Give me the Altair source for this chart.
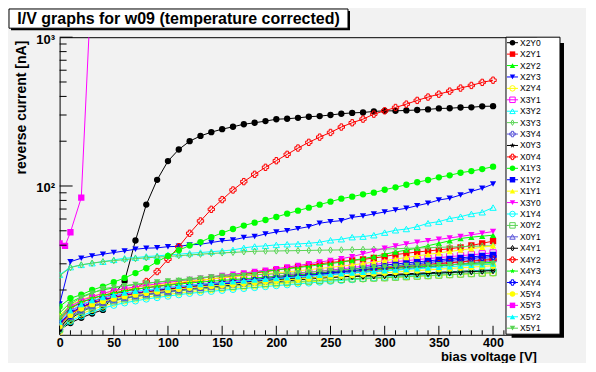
import altair as alt
import pandas as pd

# ---------------- data ----------------
VOLTS = [0, 10, 20, 30, 40, 50, 60, 70, 80, 90, 100, 110, 120, 130, 140, 150, 160, 170, 180, 190, 200,
         210, 220, 230, 240, 250, 260, 270, 280, 290, 300, 310, 320, 330, 340, 350, 360, 370, 380, 390, 400]

X2Y0 = [10.8, 12.0, 13.0, 13.9, 14.7, 18.5, 23.0, 43.0, 75.0, 110.0, 147.0, 176.0, 200.0, 217.0, 230.0, 241.0, 250.0, 260.0, 266.0, 273.0, 281.0,
        283.0, 287.0, 292.0, 295.0, 300.0, 306.0, 310.0, 312.0, 317.0, 320.0, 320.0, 322.0, 324.0, 327.0, 332.0, 333.0, 337.0, 338.0, 343.0, 344.0]
X2Y1 = [12.5, 15.0, 16.5, 17.5, 18.4, 19.1, 19.7, 20.2, 20.7, 21.2, 21.7, 22.2, 22.7, 23.2, 23.7, 24.2, 24.8, 25.4, 26.0, 26.6, 27.2,
        27.9, 28.6, 29.3, 30.0, 30.6, 31.1, 31.6, 32.1, 32.8, 33.6, 34.6, 35.3, 36.0, 36.6, 37.2, 37.9, 38.7, 39.8, 41.2, 42.6]
X2Y2 = [14.0, 16.5, 18.0, 19.2, 20.0, 20.7, 21.3, 21.8, 22.2, 22.6, 23.0, 23.4, 23.8, 24.2, 24.6, 25.0, 25.4, 25.8, 26.3, 26.8, 27.3,
        27.8, 28.3, 28.9, 29.5, 30.1, 30.8, 31.6, 32.5, 33.5, 34.8, 36.0, 37.1, 38.2, 39.7, 41.2, 42.8, 44.4, 45.3, 46.0, 46.7]
X2Y3 = [16.1, 31.0, 32.7, 33.9, 34.8, 35.7, 36.6, 37.6, 38.2, 38.4, 39.1, 39.3, 40.2, 40.6, 41.7, 42.8, 43.4, 45.0, 45.7, 47.6, 49.1,
        50.1, 51.7, 53.3, 56.2, 57.6, 58.5, 61.6, 62.9, 64.9, 66.9, 69.0, 70.8, 73.8, 76.6, 80.5, 82.7, 87.0, 92.0, 96.5, 103.0]
X2Y4 = [10.5, 12.5, 13.8, 14.8, 15.6, 16.3, 16.9, 17.4, 17.9, 18.3, 18.7, 19.1, 19.5, 19.8, 20.1, 20.4, 20.7, 21.0, 21.3, 21.6, 21.9,
        22.2, 22.5, 22.7, 22.9, 23.1, 23.3, 23.5, 23.7, 23.9, 24.1, 24.3, 24.5, 24.7, 24.9, 25.1, 25.3, 25.5, 25.7, 25.9, 26.0]
X3Y1 = [12.0, 14.3, 15.8, 16.8, 17.6, 18.3, 18.9, 19.4, 19.9, 20.3, 20.7, 21.1, 21.5, 21.9, 22.3, 22.7, 23.1, 23.5, 23.9, 24.3, 24.7,
        25.2, 25.7, 26.2, 26.7, 27.2, 27.7, 28.3, 28.9, 29.6, 30.3, 31.0, 31.5, 32.0, 32.5, 33.0, 33.5, 34.0, 34.5, 35.0, 35.5]
X3Y2 = [25.3, 28.5, 29.5, 30.3, 31.0, 31.9, 32.7, 33.0, 33.6, 33.9, 34.4, 34.8, 35.3, 35.7, 36.2, 36.6, 37.2, 38.4, 39.2, 39.6, 40.2,
        40.6, 40.8, 41.2, 41.9, 43.2, 43.9, 45.3, 45.7, 46.7, 48.6, 50.4, 51.4, 53.3, 56.2, 57.6, 60.4, 62.2, 64.9, 66.6, 71.6]
X3Y3 = [24.9, 28.3, 29.5, 30.3, 31.0, 31.5, 32.0, 32.5, 32.9, 33.3, 33.6, 34.0, 34.4, 34.8, 35.2, 35.5, 35.8, 36.1, 36.4, 36.5, 36.6,
        36.7, 36.8, 36.9, 37.0, 37.1, 37.2, 37.3, 37.5, 37.6, 37.7, 37.9, 38.1, 38.3, 38.5, 38.7, 38.9, 39.1, 39.3, 39.5, 39.7]
X3Y4 = [11.8, 14.0, 15.3, 16.3, 17.1, 17.8, 18.4, 18.9, 19.4, 19.8, 20.2, 20.6, 21.0, 21.4, 21.8, 22.2, 22.6, 23.0, 23.4, 23.7, 24.0,
        24.3, 24.6, 24.9, 25.2, 25.5, 25.8, 26.1, 26.4, 26.7, 27.0, 27.4, 27.8, 28.2, 28.6, 29.0, 29.5, 30.0, 30.5, 31.0, 31.5]
X0Y3 = [10.6, 12.8, 14.3, 15.4, 16.3, 17.0, 17.6, 18.1, 18.6, 19.1, 19.5, 19.9, 20.3, 20.7, 21.0, 21.3, 21.6, 21.9, 22.2, 22.5, 22.8,
        23.1, 23.4, 23.7, 24.0, 24.3, 24.5, 24.7, 24.9, 25.1, 25.3, 25.5, 25.7, 25.9, 26.1, 26.3, 26.5, 26.7, 26.9, 27.1, 27.3]
X0Y4 = [12.0, 13.6, 15.1, 16.7, 17.8, 18.8, 19.6, 20.5, 22.8, 26.6, 32.2, 39.1, 48.1, 58.2, 69.7, 81.0, 94.0, 107.0, 119.8, 133.5, 147.9,
        163.2, 179.9, 196.5, 213.0, 229.0, 249.0, 266.0, 281.5, 304.0, 320.0, 337.0, 355.0, 376.0, 396.0, 414.0, 434.0, 455.0, 474.0, 497.0, 514.0]
X1Y3 = [15.5, 17.6, 18.6, 20.0, 21.1, 22.6, 24.1, 26.0, 28.0, 31.0, 33.9, 37.0, 39.8, 42.0, 45.3, 48.4, 51.4, 54.2, 56.7, 59.1, 61.9,
        65.2, 68.3, 71.5, 74.9, 78.5, 82.2, 84.8, 87.9, 90.2, 94.4, 98.0, 102.0, 106.0, 109.7, 114.4, 118.0, 122.8, 126.0, 130.0, 134.8]
X1Y2 = [12.0, 14.0, 15.4, 16.4, 17.2, 17.9, 18.5, 19.0, 19.5, 19.9, 20.3, 20.7, 21.1, 21.5, 21.9, 22.3, 22.7, 23.1, 23.5, 23.9, 24.3,
        24.7, 25.1, 25.5, 26.0, 26.5, 27.0, 27.6, 28.2, 28.8, 29.4, 29.9, 30.4, 30.9, 31.4, 31.9, 32.4, 32.9, 33.4, 33.9, 34.4]
X1Y1 = [13.5, 15.8, 17.2, 18.2, 19.0, 19.7, 20.3, 20.8, 21.3, 21.7, 22.1, 22.5, 22.9, 23.3, 23.7, 24.1, 24.5, 24.9, 25.3, 25.7, 26.1,
        26.5, 26.9, 27.4, 27.9, 28.4, 28.9, 29.5, 30.1, 30.8, 31.5, 32.3, 33.1, 33.9, 34.7, 35.5, 36.3, 37.1, 37.9, 38.8, 39.6]
X3Y0 = [13.0, 15.5, 17.0, 18.0, 19.0, 19.8, 20.4, 21.0, 21.5, 22.0, 22.5, 23.0, 23.5, 24.0, 24.5, 25.0, 25.5, 26.0, 26.6, 27.2, 27.8,
        28.5, 29.2, 30.0, 30.8, 31.6, 32.5, 33.5, 35.0, 36.5, 38.2, 39.5, 40.8, 41.8, 42.8, 43.8, 44.8, 45.8, 47.0, 48.2, 49.4]
X1Y4 = [10.8, 12.3, 13.4, 14.3, 15.1, 15.8, 16.4, 16.9, 17.4, 17.8, 18.2, 18.6, 19.0, 19.3, 19.6, 19.9, 20.2, 20.5, 20.8, 21.1, 21.4,
        21.7, 22.0, 22.3, 22.6, 22.9, 23.2, 23.5, 23.8, 24.1, 24.4, 24.7, 25.0, 25.3, 25.6, 25.9, 26.2, 26.5, 26.8, 27.1, 27.4]
X0Y2 = [10.9, 13.0, 14.4, 15.4, 16.2, 16.9, 17.5, 18.0, 18.5, 18.9, 19.3, 19.7, 20.0, 20.3, 20.6, 20.9, 21.2, 21.5, 21.8, 22.1, 22.4,
        22.6, 22.8, 23.0, 23.2, 23.4, 23.6, 23.8, 24.0, 24.1, 24.2, 24.4, 24.6, 24.8, 25.0, 25.2, 25.4, 25.6, 25.8, 26.0, 26.2]
X0Y1 = [11.3, 13.2, 14.6, 15.6, 16.4, 17.1, 17.7, 18.2, 18.7, 19.1, 19.5, 19.9, 20.3, 20.7, 21.1, 21.5, 21.9, 22.3, 22.7, 23.1, 23.5,
        23.9, 24.3, 24.7, 25.1, 25.5, 25.9, 26.3, 26.7, 27.1, 27.6, 28.1, 28.6, 29.1, 29.6, 30.1, 30.6, 31.1, 31.6, 32.1, 32.6]
X4Y1 = [11.0, 13.5, 15.0, 16.0, 16.9, 17.6, 18.2, 18.7, 19.2, 19.7, 20.2, 20.6, 21.0, 21.4, 21.7, 22.0, 22.3, 22.6, 22.9, 23.2, 23.5,
        23.7, 23.9, 24.1, 24.3, 24.5, 24.6, 24.7, 24.8, 24.9, 25.0, 25.2, 25.4, 25.6, 25.8, 26.0, 26.2, 26.4, 26.6, 26.8, 27.0]
X4Y2 = [11.6, 13.8, 15.2, 16.2, 17.0, 17.7, 18.3, 18.8, 19.3, 19.7, 20.1, 20.5, 20.9, 21.3, 21.7, 22.1, 22.5, 22.9, 23.3, 23.7, 24.1,
        24.5, 24.9, 25.3, 25.7, 26.1, 26.5, 26.9, 27.3, 27.7, 28.1, 28.5, 28.9, 29.3, 29.7, 30.1, 30.5, 30.9, 31.3, 31.7, 32.1]
X4Y3 = [12.8, 15.2, 16.6, 17.6, 18.4, 19.1, 19.7, 20.2, 20.7, 21.1, 21.5, 21.9, 22.3, 22.6, 22.9, 23.2, 23.5, 23.8, 24.1, 24.4, 24.7,
        25.0, 25.3, 25.6, 25.9, 26.2, 26.5, 26.8, 27.1, 27.4, 27.7, 28.0, 28.3, 28.6, 28.9, 29.2, 29.5, 29.8, 30.1, 30.4, 30.7]
X4Y4 = [11.5, 13.5, 15.0, 16.0, 16.8, 17.5, 18.1, 18.6, 19.1, 19.5, 19.9, 20.3, 20.7, 21.1, 21.5, 21.9, 22.3, 22.7, 23.1, 23.5, 23.9,
        24.3, 24.7, 25.1, 25.5, 26.0, 26.5, 27.0, 27.5, 28.0, 28.6, 29.1, 29.6, 30.1, 30.6, 31.1, 31.6, 32.1, 32.6, 33.1, 33.6]
X5Y4 = [11.4, 13.6, 15.0, 16.0, 16.8, 17.5, 18.1, 18.6, 19.1, 19.5, 19.9, 20.3, 20.7, 21.0, 21.3, 21.6, 21.9, 22.2, 22.5, 22.8, 23.1,
        23.4, 23.7, 24.0, 24.3, 24.6, 24.9, 25.2, 25.5, 25.8, 26.1, 26.4, 26.7, 27.0, 27.3, 27.6, 27.9, 28.2, 28.5, 28.8, 29.1]
X5Y3_V = [0, 5, 10, 20, 30]
X5Y3 = [41.2, 39.6, 48.9, 83.5, 2900.0]
X5Y2 = [12.2, 14.5, 16.0, 17.0, 17.8, 18.5, 19.1, 19.6, 20.0, 20.4, 20.8, 21.2, 21.5, 21.8, 22.1, 22.4, 22.7, 23.0, 23.3, 23.6, 23.9,
        24.2, 24.5, 24.8, 25.1, 25.4, 25.7, 26.0, 26.3, 26.6, 26.9, 27.2, 27.5, 27.8, 28.1, 28.4, 28.7, 29.0, 29.3, 29.6, 29.9]
X5Y1 = [13.0, 16.0, 17.8, 19.0, 20.4, 20.9, 21.4, 21.8, 22.2, 22.6, 23.0, 23.2, 23.5, 24.0, 24.5, 24.7, 24.9, 25.1, 25.3, 25.5, 25.7,
        25.9, 26.1, 26.4, 26.7, 27.0, 27.3, 27.6, 28.0, 28.3, 28.6, 28.9, 29.2, 29.4, 29.5, 29.6, 29.7, 29.8, 29.8, 29.9, 30.0]

NAMES = ["X2Y0", "X2Y1", "X2Y2", "X2Y3", "X2Y4", "X3Y1", "X3Y2", "X3Y3", "X3Y4", "X0Y3", "X0Y4", "X1Y3", "X1Y2",
         "X1Y1", "X3Y0", "X1Y4", "X0Y2", "X0Y1", "X4Y1", "X4Y2", "X4Y3", "X4Y4", "X5Y4", "X5Y3", "X5Y2", "X5Y1"]
SERIES = {"X2Y0": X2Y0, "X2Y1": X2Y1, "X2Y2": X2Y2, "X2Y3": X2Y3, "X2Y4": X2Y4, "X3Y1": X3Y1, "X3Y2": X3Y2,
          "X3Y3": X3Y3, "X3Y4": X3Y4, "X0Y3": X0Y3, "X0Y4": X0Y4, "X1Y3": X1Y3, "X1Y2": X1Y2, "X1Y1": X1Y1,
          "X3Y0": X3Y0, "X1Y4": X1Y4, "X0Y2": X0Y2, "X0Y1": X0Y1, "X4Y1": X4Y1, "X4Y2": X4Y2, "X4Y3": X4Y3,
          "X4Y4": X4Y4, "X5Y4": X5Y4, "X5Y3": X5Y3, "X5Y2": X5Y2, "X5Y1": X5Y1}
SERIES_V = {"X5Y3": X5Y3_V}

X_MAJOR = [0, 50, 100, 150, 200, 250, 300, 350, 400]
X_MINOR = [10, 20, 30, 40, 60, 70, 80, 90, 110, 120, 130, 140, 160, 170, 180, 190, 210, 220, 230, 240,
           260, 270, 280, 290, 310, 320, 330, 340, 360, 370, 380, 390, 410, 420, 430]
Y_MAJOR = [100, 1000]
Y_MINOR = [20, 30, 40, 50, 60, 70, 80, 90, 200, 300, 400, 500, 600, 700, 800, 900]

# ---------------- styles ----------------
COLORS = ["#000000", "#ff0000", "#00ff00", "#0000ff", "#ffff00", "#ff00ff", "#00ffff", "#59d454", "#5954d9"]
DIAMOND = "M0,-1L0.6,0L0,1L-0.6,0Z"
STAR = ("M0,-1L0.235,-0.324L0.951,-0.309L0.38,0.124L0.588,0.809L0,0.4L-0.588,0.809"
        "L-0.38,0.124L-0.951,-0.309L-0.235,-0.324Z")
MARKERS = [("circle", True), ("square", True), ("triangle-up", True), ("triangle-down", True),
           ("circle", False), ("square", False), ("triangle-up", False), (DIAMOND, False),
           ("cross", False), (STAR, True), ("cross", False)]

FONT = "Liberation Sans"
BG = "#f2f2f2"
W, H = 476.8, 297.6

rows = []
for name in NAMES:
    vs = SERIES_V.get(name, VOLTS)
    for v, i in zip(vs, SERIES[name]):
        rows.append({"series": name, "V": v, "I": i})
df = pd.DataFrame(rows)

xscale = alt.Scale(domain=[0, 440], nice=False, zero=False)
yscale = alt.Scale(type="log", domain=[10, 1000], nice=False)
xaxis = alt.Axis(values=X_MAJOR, ticks=False, tickSize=0, grid=False, domain=False, labelFlush=False,
                 labelOverlap=False, labelFont=FONT, labelFontWeight="bold", labelFontSize=12.5,
                 labelColor="black", labelPadding=1.5, title="bias voltage [V]", titleFont=FONT,
                 titleFontWeight="bold", titleFontSize=13, titleColor="black", titleX=W, titleY=25.6,
                 titleAlign="right", titleBaseline="alphabetic")
yaxis = alt.Axis(values=Y_MAJOR, ticks=False, tickSize=0, grid=False, domain=False, labelFlush=False,
                 labelOverlap=False, labelExpr="datum.value == 100 ? '10²' : '10³'", labelFont=FONT,
                 labelFontWeight="bold", labelFontSize=13, labelColor="black", labelPadding=5, labelOffset=2,
                 title="reverse current [nA]", titleFont=FONT, titleFontWeight="bold", titleFontSize=14,
                 titleColor="black", titleAngle=270, titleX=-38.6, titleY=3, titleAlign="right",
                 titleBaseline="middle")


def XE():
    return alt.X("V:Q", scale=xscale, axis=xaxis)


def YE():
    return alt.Y("I:Q", scale=yscale, axis=yaxis)


data_layers = []
for k, name in enumerate(NAMES):
    c = COLORS[k % 9]
    shp, filled = MARKERS[k % 11]
    base = alt.Chart(df).transform_filter(alt.datum.series == name)
    data_layers.append(base.mark_line(color=c, strokeWidth=1, clip=True).encode(x=XE(), y=YE()))
    data_layers.append(base.mark_point(shape=shp, filled=filled, color=c, size=40, opacity=1,
                                       strokeWidth=1, clip=True).encode(x=XE(), y=YE()))

tx_major = alt.Chart(pd.DataFrame({"V": X_MAJOR})).mark_rule(color="black", strokeWidth=1).encode(
    x=XE(), y=alt.value(H), y2=alt.value(H - 9))
tx_minor = alt.Chart(pd.DataFrame({"V": X_MINOR})).mark_rule(color="black", strokeWidth=1).encode(
    x=XE(), y=alt.value(H), y2=alt.value(H - 4.5))
ty_major = alt.Chart(pd.DataFrame({"I": Y_MAJOR})).mark_rule(color="black", strokeWidth=1).encode(
    y=YE(), x=alt.value(0), x2=alt.value(13))
ty_minor = alt.Chart(pd.DataFrame({"I": Y_MINOR})).mark_rule(color="black", strokeWidth=1).encode(
    y=YE(), x=alt.value(0), x2=alt.value(7))

data_group = alt.layer(*data_layers, tx_major, tx_minor, ty_major, ty_minor)

# ---------------- legend and title box ----------------
one = pd.DataFrame({"a": [0]})
leg_df = pd.DataFrame({"series": NAMES})
ly = alt.Y("series:N", scale=alt.Scale(type="point", domain=NAMES, range=[5.5, 291.0], padding=0), axis=None)

leg_layers = [
    alt.Chart(one).mark_rect(color="black").encode(
        x=alt.value(452), x2=alt.value(504.4), y=alt.value(5.8), y2=alt.value(300.5)),
    alt.Chart(one).mark_rect(fill="white", stroke="black", strokeWidth=1).encode(
        x=alt.value(446.4), x2=alt.value(500.4), y=alt.value(0), y2=alt.value(297)),
]
for k, name in enumerate(NAMES):
    c = COLORS[k % 9]
    shp, filled = MARKERS[k % 11]
    base = alt.Chart(leg_df).transform_filter(alt.datum.series == name)
    leg_layers.append(base.mark_rule(color=c, strokeWidth=1).encode(
        x=alt.value(447.4), x2=alt.value(458.4), y=ly))
    leg_layers.append(base.mark_point(shape=shp, filled=filled, color=c, size=30, opacity=1,
                                      strokeWidth=1).encode(x=alt.value(452.9), y=ly))
leg_layers.append(alt.Chart(leg_df).mark_text(align="left", baseline="middle", font=FONT, fontSize=8.5,
                                              color="black").encode(x=alt.value(460.4), y=ly, text="series:N"))

title_layers = [
    alt.Chart(one).mark_rect(color="black").encode(
        x=alt.value(-48.6), x2=alt.value(290.4), y=alt.value(-26.2), y2=alt.value(-7)),
    alt.Chart(one).mark_rect(fill="white", stroke="black", strokeWidth=1).encode(
        x=alt.value(-50.6), x2=alt.value(288.4), y=alt.value(-28.2), y2=alt.value(-9)),
    alt.Chart(one).mark_text(align="center", baseline="middle", font=FONT, fontSize=16, fontWeight="bold",
                             color="black").encode(
        x=alt.value(118.9), y=alt.value(-18.4), text=alt.value("I/V graphs for w09 (temperature corrected)")),
]

legend_group = alt.layer(*leg_layers, *title_layers)

chart = alt.layer(data_group, legend_group).resolve_scale(y="independent").properties(
    width=W, height=H,
    padding={"left": 51.6, "top": 29.2, "right": 50, "bottom": 28.6},
    autosize=alt.AutoSizeParams(type="none"),
    background=BG,
).configure_view(stroke="black", strokeWidth=1, fill=BG)

chart.save("out.html", embed_options={"renderer": "svg", "actions": False})
